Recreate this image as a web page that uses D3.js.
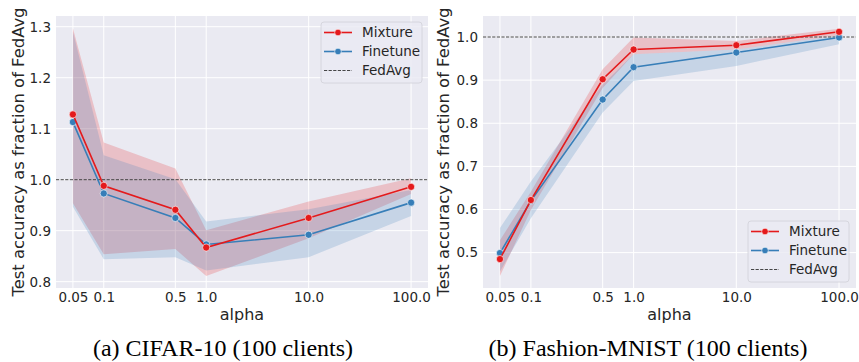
<!DOCTYPE html>
<html>
<head>
<meta charset="utf-8">
<script src="https://cdn.jsdelivr.net/npm/d3@7"></script>
<style>
  body { margin: 0; background: #fff; }
  svg { display: block; }
</style>
</head>
<body>
<div id="chart"></div>
<script>
// Data
const alphas = [0.05, 0.1, 0.5, 1.0, 10.0, 100.0];
const xTickLabels = ["0.05", "0.1", "0.5", "1.0", "10.0", "100.0"];
const seriesNames = ["Mixture", "Finetune", "FedAvg"];

// (a) CIFAR-10
const cifarYTicks = [0.8, 0.9, 1.0, 1.1, 1.2, 1.3];
const cifarMixture = [1.128, 0.988, 0.941, 0.867, 0.925, 0.986];
const cifarMixtureLo = [0.954, 0.854, 0.864, 0.811, 0.885, 0.972];
const cifarMixtureHi = [1.297, 1.073, 1.022, 0.901, 0.957, 1.003];
const cifarFinetune = [1.113, 0.973, 0.925, 0.873, 0.892, 0.955];
const cifarFinetuneLo = [0.947, 0.844, 0.848, 0.822, 0.848, 0.929];
const cifarFinetuneHi = [1.290, 1.048, 1.001, 0.918, 0.942, 0.980];

// (b) Fashion-MNIST
const fmnistYTicks = [0.5, 0.6, 0.7, 0.8, 0.9, 1.0];
const fmnistMixture = [0.485, 0.622, 0.902, 0.971, 0.981, 1.012];
const fmnistMixtureLo = [0.446, 0.599, 0.882, 0.960, 0.971, 1.004];
const fmnistMixtureHi = [0.529, 0.641, 0.925, 0.999, 0.991, 1.019];
const fmnistFinetune = [0.499, 0.620, 0.855, 0.930, 0.964, 0.999];
const fmnistFinetuneLo = [0.456, 0.580, 0.825, 0.898, 0.933, 0.983];
const fmnistFinetuneHi = [0.557, 0.665, 0.890, 0.960, 0.971, 1.004];

const fedAvgLevel = 1.0;

const width = 859;
const height = 362;
const red = "#e41a1c";
const blue = "#377eb8";
const textColor = "#262626";
const sansFont = "'DejaVu Sans', sans-serif";

const svg = d3.select("#chart")
  .append("svg")
  .attr("width", width)
  .attr("height", height);

function drawPanel(p) {
  const g = svg.append("g");

  // log x with 5% padding like matplotlib
  const lo = Math.log10(d3.min(alphas)), hi = Math.log10(d3.max(alphas));
  const pad = (hi - lo) * 0.05;
  const x = d3.scaleLog()
    .domain([Math.pow(10, lo - pad), Math.pow(10, hi + pad)])
    .range([p.left, p.right]);

  const y = d3.scaleLinear()
    .domain(p.yDomain)
    .range([p.bottom, p.top]);

  // background
  g.append("rect")
    .attr("x", p.left)
    .attr("y", p.top)
    .attr("width", p.right - p.left)
    .attr("height", p.bottom - p.top)
    .attr("fill", "#eaeaf2");

  // grid
  g.selectAll(".vgrid")
    .data(alphas)
    .enter()
    .append("line")
    .attr("x1", d => x(d)).attr("x2", d => x(d))
    .attr("y1", p.top).attr("y2", p.bottom)
    .attr("stroke", "#fff").attr("stroke-width", 1);

  g.selectAll(".hgrid")
    .data(p.yTicks)
    .enter()
    .append("line")
    .attr("x1", p.left).attr("x2", p.right)
    .attr("y1", d => y(d)).attr("y2", d => y(d))
    .attr("stroke", "#fff").attr("stroke-width", 1);

  // axes (no domain, no tick marks)
  const xAxis = g.append("g")
    .attr("transform", `translate(0,${p.bottom})`)
    .call(d3.axisBottom(x).tickValues(alphas).tickFormat((d, i) => xTickLabels[i]).tickSize(0).tickPadding(4));
  const yAxis = g.append("g")
    .attr("transform", `translate(${p.left},0)`)
    .call(d3.axisLeft(y).tickValues(p.yTicks).tickFormat(d3.format(".1f")).tickSize(0).tickPadding(5));
  [xAxis, yAxis].forEach(a => {
    a.select(".domain").remove();
    a.selectAll("text")
      .attr("fill", textColor)
      .style("font-family", sansFont)
      .style("font-size", "13.5px");
  });

  // confidence bands
  const area = d3.area()
    .x(d => x(d.a))
    .y0(d => y(d.lo))
    .y1(d => y(d.hi));
  const line = d3.line()
    .x(d => x(d.a))
    .y(d => y(d.v));

  const series = p.series.map(s => ({
    color: s.color,
    pts: alphas.map((a, i) => ({ a: a, v: s.values[i], lo: s.lo[i], hi: s.hi[i] }))
  }));

  series.forEach(s => {
    g.append("path")
      .datum(s.pts)
      .attr("d", area)
      .attr("fill", s.color)
      .attr("fill-opacity", 0.2);
  });

  // FedAvg reference line
  g.append("line")
    .attr("x1", p.left).attr("x2", p.right)
    .attr("y1", y(fedAvgLevel)).attr("y2", y(fedAvgLevel))
    .attr("stroke", "#333")
    .attr("stroke-width", 0.9)
    .attr("stroke-dasharray", "3.2,1.4");

  series.slice().reverse().forEach(s => {
    g.append("path")
      .datum(s.pts)
      .attr("d", line)
      .attr("fill", "none")
      .attr("stroke", s.color)
      .attr("stroke-width", 1.6);
    g.selectAll(null)
      .data(s.pts)
      .enter()
      .append("circle")
      .attr("cx", d => x(d.a))
      .attr("cy", d => y(d.v))
      .attr("r", 3.6)
      .attr("fill", s.color)
      .attr("stroke", "#fff")
      .attr("stroke-width", 0.6);
  });

  // axis labels
  g.append("text")
    .attr("x", (p.left + p.right) / 2)
    .attr("y", p.bottom + 32)
    .attr("text-anchor", "middle")
    .attr("fill", textColor)
    .style("font-family", sansFont)
    .style("font-size", "16px")
    .text("alpha");

  g.append("text")
    .attr("transform", `translate(${p.yLabelX},${(p.top + p.bottom) / 2}) rotate(-90)`)
    .attr("text-anchor", "middle")
    .attr("fill", textColor)
    .style("font-family", sansFont)
    .style("font-size", "16.4px")
    .text("Test accuracy as fraction of FedAvg");

  // caption
  g.append("text")
    .attr("x", p.captionX)
    .attr("y", 356)
    .attr("text-anchor", "middle")
    .attr("fill", "#000")
    .style("font-family", "'Liberation Serif', serif")
    .style("font-size", "24px")
    .text(p.caption);

  // legend
  const lg = g.append("g").attr("transform", `translate(${p.legendX},${p.legendY})`);
  lg.append("rect")
    .attr("width", 101).attr("height", 61)
    .attr("rx", 3)
    .attr("fill", "#eaeaf2").attr("fill-opacity", 0.8)
    .attr("stroke", "#d0d0d8").attr("stroke-width", 0.8);
  const legendItems = [
    { name: seriesNames[0], color: red, marker: true },
    { name: seriesNames[1], color: blue, marker: true },
    { name: seriesNames[2], color: "#333", marker: false }
  ];
  legendItems.forEach((it, i) => {
    const cy = 10.5 + i * 19;
    lg.append("line")
      .attr("x1", 3).attr("x2", 31)
      .attr("y1", cy).attr("y2", cy)
      .attr("stroke", it.color)
      .attr("stroke-width", it.marker ? 1.6 : 0.9)
      .attr("stroke-dasharray", it.marker ? null : "3.2,1.4");
    if (it.marker) {
      lg.append("circle")
        .attr("cx", 17).attr("cy", cy).attr("r", 3.3)
        .attr("fill", it.color).attr("stroke", "#fff").attr("stroke-width", 0.6);
    }
    lg.append("text")
      .attr("x", 41).attr("y", cy + 4.8)
      .attr("fill", textColor)
      .style("font-family", sansFont)
      .style("font-size", "13.5px")
      .text(it.name);
  });
}

drawPanel({
  left: 56, right: 428, top: 16, bottom: 288,
  yDomain: [0.7876, 1.321],
  yTicks: cifarYTicks,
  yLabelX: 24,
  caption: "(a) CIFAR-10 (100 clients)",
  captionX: 223,
  legendX: 321, legendY: 22,
  series: [
    { color: red, values: cifarMixture, lo: cifarMixtureLo, hi: cifarMixtureHi },
    { color: blue, values: cifarFinetune, lo: cifarFinetuneLo, hi: cifarFinetuneHi }
  ]
});

drawPanel({
  left: 483, right: 856, top: 16, bottom: 288,
  yDomain: [0.418, 1.0487],
  yTicks: fmnistYTicks,
  yLabelX: 449,
  caption: "(b) Fashion-MNIST (100 clients)",
  captionX: 648,
  legendX: 748, legendY: 221,
  series: [
    { color: red, values: fmnistMixture, lo: fmnistMixtureLo, hi: fmnistMixtureHi },
    { color: blue, values: fmnistFinetune, lo: fmnistFinetuneLo, hi: fmnistFinetuneHi }
  ]
});
</script>
</body>
</html>
